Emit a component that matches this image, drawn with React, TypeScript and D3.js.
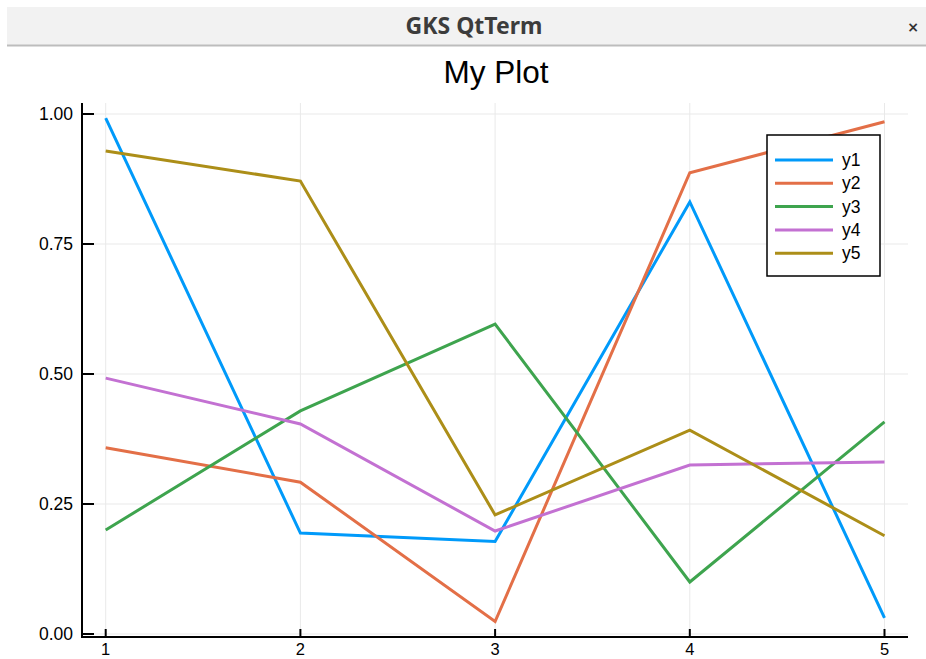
import { useEffect, useRef } from 'react';
import * as d3 from 'd3';

const xs = [1, 2, 3, 4, 5];
const seriesNames = ['y1', 'y2', 'y3', 'y4', 'y5'];
const y1 = [0.992, 0.194, 0.178, 0.831, 0.031];
const y2 = [0.358, 0.292, 0.024, 0.887, 0.985];
const y3 = [0.2, 0.429, 0.596, 0.1, 0.408];
const y4 = [0.492, 0.404, 0.198, 0.325, 0.331];
const y5 = [0.929, 0.871, 0.229, 0.392, 0.189];
const colors = ['#009AFA', '#E36F47', '#3EA44E', '#C371D2', '#AC8E18'];
const yTicks = [0, 0.25, 0.5, 0.75, 1];
const xTicks = [1, 2, 3, 4, 5];

const W = 926;
const H = 659;

export default function App() {
  const ref = useRef<SVGSVGElement | null>(null);

  useEffect(() => {
    if (!ref.current) return;
    const svg = d3.select(ref.current);
    svg.selectAll('*').remove();

    const font = "'Liberation Sans', Arial, sans-serif";

    // window title bar
    svg.append('rect').attr('x', 0).attr('y', 0).attr('width', W).attr('height', H).attr('fill', '#fff');
    svg.append('rect').attr('x', 7).attr('y', 7).attr('width', W - 7).attr('height', 38).attr('fill', '#f2f2f2');
    svg.append('line').attr('x1', 7).attr('x2', W).attr('y1', 45.5).attr('y2', 45.5).attr('stroke', '#bdbdbd').attr('stroke-width', 2);
    svg.append('text').attr('x', 474).attr('y', 34).attr('text-anchor', 'middle')
      .attr('font-family', "'Noto Sans', 'DejaVu Sans', sans-serif").attr('font-weight', 'bold')
      .attr('font-size', 23).attr('fill', '#3c3c3c').text('GKS QtTerm');
    svg.append('text').attr('x', 913).attr('y', 32).attr('text-anchor', 'middle')
      .attr('font-family', "'DejaVu Sans', sans-serif").attr('font-weight', 'bold')
      .attr('font-size', 14).attr('fill', '#333').text('×');

    const left = 82, right = 908, top = 103, bottom = 637;
    const x = d3.scaleLinear().domain([1, 5]).range([105.7, 884.5]);
    const y = d3.scaleLinear().domain([0, 1]).range([634, 114]);

    // title
    svg.append('text').attr('x', 496).attr('y', 83).attr('text-anchor', 'middle')
      .attr('font-family', font).attr('font-size', 31.5).attr('fill', '#000').text('My Plot');

    // grid
    const grid = svg.append('g').attr('stroke', '#e9e9e9').attr('stroke-width', 1);
    grid.selectAll('line.gx').data(xTicks).join('line').attr('class', 'gx')
      .attr('x1', (d) => x(d)).attr('x2', (d) => x(d)).attr('y1', top).attr('y2', bottom);
    grid.selectAll('line.gy').data(yTicks).join('line').attr('class', 'gy')
      .attr('x1', left).attr('x2', right).attr('y1', (d) => y(d)).attr('y2', (d) => y(d));

    // series
    const all = [y1, y2, y3, y4, y5];
    const line = d3.line<number>().x((_, i) => x(xs[i])).y((d) => y(d));
    svg.append('g').selectAll('path').data(all).join('path')
      .attr('d', (d) => line(d))
      .attr('fill', 'none')
      .attr('stroke', (_, i) => colors[i])
      .attr('stroke-width', 3)
      .attr('stroke-linejoin', 'miter');

    // axes
    const ax = svg.append('g').attr('stroke', '#000').attr('stroke-width', 2);
    ax.append('line').attr('x1', left).attr('x2', left).attr('y1', top).attr('y2', bottom + 1);
    ax.append('line').attr('x1', left - 1).attr('x2', right).attr('y1', bottom).attr('y2', bottom);
    ax.selectAll('line.ty').data(yTicks).join('line').attr('class', 'ty')
      .attr('x1', left).attr('x2', left + 12).attr('y1', (d) => y(d)).attr('y2', (d) => y(d));
    ax.selectAll('line.tx').data(xTicks).join('line').attr('class', 'tx')
      .attr('x1', (d) => x(d)).attr('x2', (d) => x(d)).attr('y1', bottom).attr('y2', bottom - 8);

    svg.append('g').selectAll('text').data(yTicks).join('text')
      .attr('x', 73).attr('y', (d) => y(d) + 6).attr('text-anchor', 'end')
      .attr('font-family', font).attr('font-size', 17.5).attr('fill', '#000')
      .text((d) => d3.format('.2f')(d));
    svg.append('g').selectAll('text').data(xTicks).join('text')
      .attr('x', (d) => x(d)).attr('y', 655).attr('text-anchor', 'middle')
      .attr('font-family', font).attr('font-size', 16.5).attr('fill', '#000')
      .text((d) => String(d));

    // legend
    const lg = svg.append('g');
    lg.append('rect').attr('x', 767).attr('y', 135).attr('width', 113).attr('height', 141)
      .attr('fill', '#fff').attr('stroke', '#000').attr('stroke-width', 1.5);
    seriesNames.forEach((name, i) => {
      const ly = 160 + i * 23.3;
      lg.append('line').attr('x1', 775).attr('x2', 833).attr('y1', ly).attr('y2', ly)
        .attr('stroke', colors[i]).attr('stroke-width', 3);
      lg.append('text').attr('x', 842).attr('y', ly + 6).attr('font-family', font)
        .attr('font-size', 17.5).attr('fill', '#000').text(name);
    });
  }, []);

  return (
    <svg ref={ref} width={W} height={H} style={{ position: 'fixed', left: 0, top: 0 }} />
  );
}
